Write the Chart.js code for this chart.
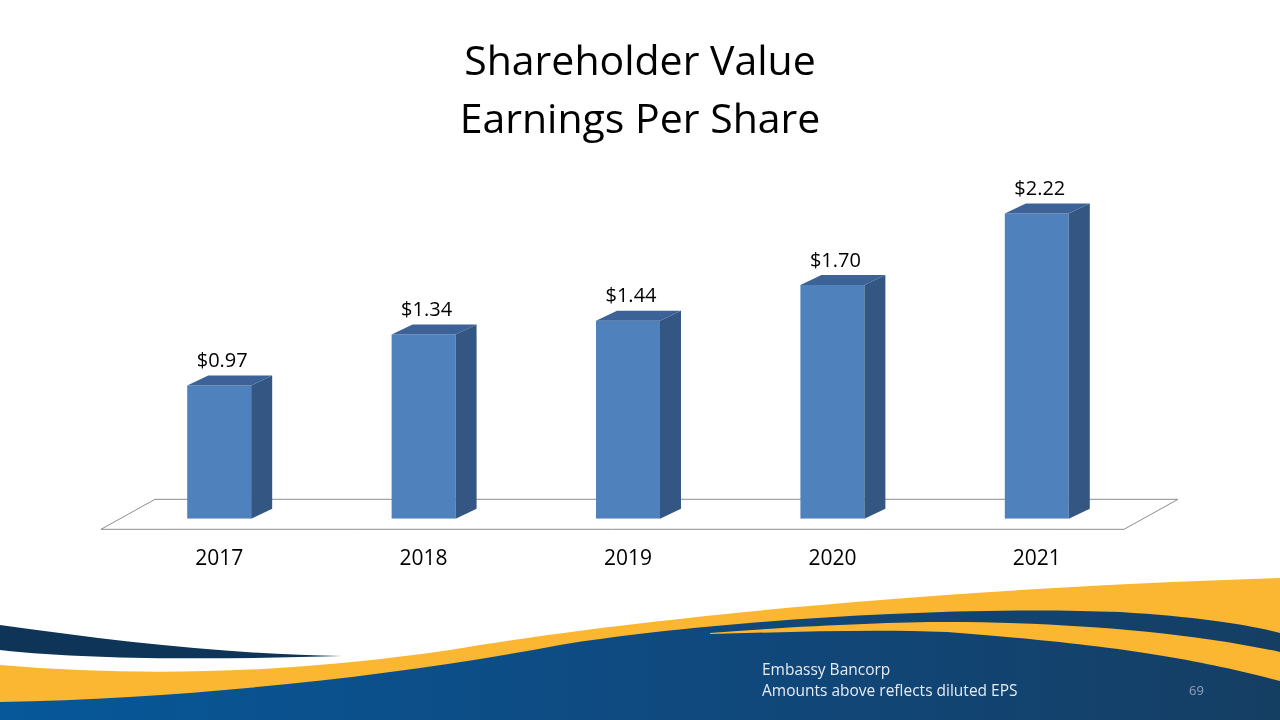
<!DOCTYPE html>
<html>
<head>
<meta charset="utf-8">
<script src="https://cdn.jsdelivr.net/npm/chart.js@4/dist/chart.umd.min.js"></script>
<style>
  html, body { margin: 0; padding: 0; background: #fff; }
  #wrap { position: relative; width: 1280px; height: 720px; overflow: hidden; font-family: "Open Sans", sans-serif; }
  #wave { position: absolute; left: 0; top: 0; }
  #epsChart { position: absolute; left: 0; top: 0; }
  .title { position: absolute; left: 0; width: 1280px; text-align: center; font-size: 41px; color: #000; line-height: 1; }
  .foot { position: absolute; left: 762px; font-size: 15.5px; color: #e6ebf2; line-height: 1; }
  .page { position: absolute; left: 1189px; top: 681px; font-size: 13px; color: #8fa3bb; }
</style>
</head>
<body>
<div id="wrap">
  <svg id="wave" width="1280" height="720" viewBox="0 0 1280 720">
    <defs>
      <linearGradient id="blueG" x1="0" y1="0" x2="1" y2="0">
        <stop offset="0" stop-color="#06589a"/>
        <stop offset="0.5" stop-color="#0f4a80"/>
        <stop offset="1" stop-color="#153e63"/>
      </linearGradient>
    </defs>
    <!-- big yellow swoosh -->
    <path d="M0,665 C150,678 300,672 450,650 C600,624 900,590 1280,578 L1280,720 L0,720 Z" fill="#fbb632"/>
    <!-- main blue body -->
    <path d="M0,702 C200,698 400,675 560,645 C700,622 950,605 1120,612 C1200,617 1250,625 1280,633 L1280,720 L0,720 Z" fill="url(#blueG)"/>
    <!-- right yellow stripe -->
    <path d="M710,633 C800,626 890,622 947,622 C1050,622 1180,630 1280,652 L1280,681 C1200,660 1120,645 947,632 C870,629 790,632 710,634 Z" fill="#fbb632"/>
    <!-- dark left swoosh -->
    <path d="M0,625 C120,642 240,655 342,656 C240,659 100,661 0,650 Z" fill="#0e3558"/>
  </svg>
  <canvas id="epsChart" width="1280" height="720"></canvas>
  <div class="title" style="top:39px">Shareholder Value</div>
  <div class="title" style="top:97px">Earnings Per Share</div>
  <div class="foot" style="top:662px">Embassy Bancorp</div>
  <div class="foot" style="top:683px">Amounts above reflects diluted EPS</div>
  <div class="page">69</div>
</div>
<script>
// data
var years = ['2017', '2018', '2019', '2020', '2021'];
var eps = [0.97, 1.34, 1.44, 1.70, 2.22];

var frontC = '#4f81bd';
var sideC = '#345683';
var topC = '#3c6297';
var depthX = 21, depthY = 10;

// floor + 3d faces + value labels
var bars3d = {
    id: 'bars3d',
    beforeDatasetsDraw: function(chart) {
        var a = chart.chartArea, ctx = chart.ctx;
        ctx.save();
        ctx.strokeStyle = '#8c8c8c';
        ctx.lineWidth = 1;
        ctx.beginPath();
        ctx.moveTo(a.left - 16, a.bottom + 10.5);
        ctx.lineTo(a.right - 15, a.bottom + 10.5);
        ctx.lineTo(a.right + 39, a.bottom - 19.5);
        ctx.lineTo(a.left + 38, a.bottom - 19.5);
        ctx.closePath();
        ctx.stroke();
        ctx.restore();
    },
    afterDatasetsDraw: function(chart) {
        var ctx = chart.ctx;
        var meta = chart.getDatasetMeta(0);
        ctx.save();
        meta.data.forEach(function(bar, i) {
            var l = bar.x - bar.width / 2, r = bar.x + bar.width / 2;
            var t = bar.y, b = bar.base;
            // side
            ctx.fillStyle = sideC;
            ctx.beginPath();
            ctx.moveTo(r, t);
            ctx.lineTo(r + depthX, t - depthY);
            ctx.lineTo(r + depthX, b - depthY);
            ctx.lineTo(r, b);
            ctx.closePath();
            ctx.fill();
            // top
            ctx.fillStyle = topC;
            ctx.beginPath();
            ctx.moveTo(l, t);
            ctx.lineTo(l + depthX, t - depthY);
            ctx.lineTo(r + depthX, t - depthY);
            ctx.lineTo(r, t);
            ctx.closePath();
            ctx.fill();
            // value label
            ctx.fillStyle = '#000';
            ctx.font = '20px "Open Sans"';
            ctx.textAlign = 'center';
            ctx.textBaseline = 'middle';
            ctx.fillText('$' + eps[i].toFixed(2), bar.x + 3, t - 24);
        });
        ctx.restore();
    }
};

var ctx = document.getElementById('epsChart').getContext('2d');
new Chart(ctx, {
    type: 'bar',
    data: {
        labels: years,
        datasets: [{
            data: eps,
            backgroundColor: frontC,
            borderWidth: 0,
            categoryPercentage: 1,
            barPercentage: 0.313
        }]
    },
    options: {
        responsive: false,
        animation: false,
        layout: { padding: { top: 175, bottom: 120, left: 117, right: 141 } },
        plugins: { legend: { display: false }, tooltip: { enabled: false } },
        scales: {
            y: { display: false, min: 0, max: 2.5 },
            x: {
                grid: { display: false, drawTicks: false },
                border: { display: false },
                ticks: { color: '#000', padding: 28, font: { family: 'Open Sans', size: 21 } }
            }
        }
    },
    plugins: [bars3d]
});
</script>
</body>
</html>
